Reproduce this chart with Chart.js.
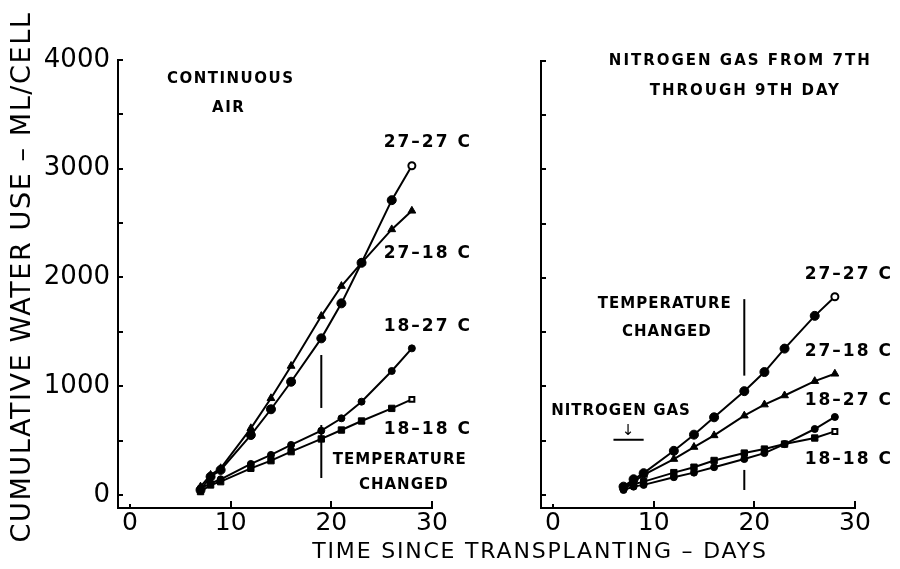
<!DOCTYPE html>
<html>
<head>
<meta charset="utf-8">
<script src="https://cdn.jsdelivr.net/npm/chart.js@4.4.0/dist/chart.umd.min.js"></script>
<style>
    html, body { margin: 0; padding: 0; background: #fff; }
    #wrap { position: relative; width: 900px; height: 569px; }
    canvas { position: absolute; left: 0; top: 0; }
</style>
</head>
<body>
<div id="wrap">
    <canvas id="air-chart" width="900" height="569"></canvas>
    <canvas id="nitrogen-chart" width="900" height="569"></canvas>
</div>
<script>
// Days since transplanting when water use was measured
const days = [7, 8, 9, 12, 14, 16, 19, 21, 23, 26, 28];
const seriesNames = ['27–27 C', '27–18 C', '18–27 C', '18–18 C'];

// Continuous air (ml per cell)
const air2727 = [46, 168, 230, 551, 788, 1041, 1440, 1762, 2135, 2711, 3027];
const air2718 = [76, 184, 245, 613, 889, 1186, 1645, 1921, 2135, 2442, 2613];
const air1827 = [61, 107, 144, 285, 368, 460, 591, 705, 858, 1140, 1348];
const air1818 = [31, 92, 122, 245, 315, 398, 515, 597, 680, 796, 879];

// Nitrogen gas from 7th through 9th day (ml per cell)
const n2727 = [77, 145, 201, 407, 556, 716, 957, 1133, 1349, 1651, 1827];
const n2718 = [68, 123, 185, 331, 442, 549, 731, 833, 917, 1049, 1117];
const n1827 = [46, 77, 93, 164, 206, 256, 331, 386, 469, 608, 719];
const n1818 = [68, 99, 123, 206, 256, 318, 386, 423, 469, 525, 586];

const xTicks = [0, 10, 20, 30];
const yTicks = [0, 1000, 2000, 3000, 4000];
const yMinorTicks = [0, 500, 1000, 1500, 2000, 2500, 3000, 3500, 4000];

const FONT = '"DejaVu Sans", sans-serif';

const makeDataset = (label, values, style) => {
    const n = values.length;
    return {
        label,
        data: values.map((v, i) => ({ x: days[i], y: v })),
        borderColor: '#000',
        borderWidth: 2,
        pointStyle: style.shape,
        pointRadius: values.map((v, i) => (i === n - 1 && style.openLast ? 3.5 : style.r)),
        pointBorderWidth: values.map((v, i) => (i === n - 1 && style.openLast ? 2 : 1)),
        pointBackgroundColor: values.map((v, i) => (i === n - 1 && style.openLast ? '#fff' : '#000')),
        pointBorderColor: '#000',
        tension: 0,
    };
};

const styles = [
    { shape: 'circle', r: 4.5, openLast: true },
    { shape: 'triangle', r: 4.5, openLast: false },
    { shape: 'circle', r: 3.5, openLast: false },
    { shape: 'rect', r: 4.5, openLast: true },
];

// draws inward tick marks and all the lettering of a panel
const decorations = (texts, lines, extra) => ({
    id: 'decorations',
    afterDraw(chart) {
        const { ctx, scales } = chart;
        const xs = scales.x, ys = scales.y;
        const area = chart.chartArea;
        ctx.save();
        ctx.strokeStyle = '#000';
        ctx.lineWidth = 2;
        ctx.beginPath();
        xTicks.forEach((v) => {
            const px = Math.round(xs.getPixelForValue(v));
            ctx.moveTo(px, area.bottom);
            ctx.lineTo(px, area.bottom - (v === 0 ? 4 : 7));
        });
        yMinorTicks.forEach((v) => {
            const py = Math.round(ys.getPixelForValue(v));
            ctx.moveTo(area.left, py);
            ctx.lineTo(area.left + 5, py);
        });
        ctx.stroke();

        lines.forEach((l) => {
            ctx.beginPath();
            ctx.lineWidth = 2;
            ctx.moveTo(xs.getPixelForValue(l.x1), ys.getPixelForValue(l.y1));
            ctx.lineTo(xs.getPixelForValue(l.x2), ys.getPixelForValue(l.y2));
            ctx.stroke();
        });

        ctx.fillStyle = '#000';
        ctx.textBaseline = 'middle';
        texts.forEach((t) => {
            ctx.font = t.font;
            ctx.letterSpacing = t.spacing || '0px';
            ctx.textAlign = t.align || 'center';
            ctx.fillText(t.text, xs.getPixelForValue(t.x), ys.getPixelForValue(t.y));
        });
        ctx.letterSpacing = '0px';
        if (extra) extra(ctx, chart);
        ctx.restore();
    },
});

const baseOptions = (showYLabels, padding) => ({
    responsive: false,
    devicePixelRatio: 1,
    animation: false,
    layout: { padding },
    plugins: { legend: { display: false }, tooltip: { enabled: false } },
    scales: {
        x: {
            type: 'linear',
            min: -1.2,
            max: 30,
            afterBuildTicks: (scale) => { scale.ticks = xTicks.map((v) => ({ value: v })); },
            afterFit: (scale) => { scale.height = 61; },
            grid: { display: false, drawTicks: false },
            border: { display: true, color: '#000', width: 2 },
            ticks: { color: '#000', font: { family: FONT, size: 25 }, padding: 0, maxRotation: 0 },
        },
        y: {
            type: 'linear',
            min: -120,
            max: 4000,
            afterBuildTicks: (scale) => { scale.ticks = yTicks.map((v) => ({ value: v })); },
            afterFit: (scale) => { scale.width = showYLabels ? 118 : 541; },
            grid: { display: false, drawTicks: false },
            border: { display: true, color: '#000', width: 2 },
            ticks: {
                display: showYLabels,
                color: '#000',
                font: { family: FONT, size: 26 },
                padding: 8,
                callback: (v) => String(v),
            },
        },
    },
});

const BOLD = 'bold 15px ' + FONT;
const LABEL = 'bold 17px ' + FONT;

const airTexts = [
    { text: 'CONTINUOUS', x: 10.0, y: 3823, font: BOLD, spacing: '1.5px' },
    { text: 'AIR', x: 9.8, y: 3557, font: BOLD, spacing: '1.5px' },
    { text: seriesNames[0], x: 25.2, y: 3244, font: LABEL, align: 'left', spacing: '2px' },
    { text: seriesNames[1], x: 25.2, y: 2224, font: LABEL, align: 'left', spacing: '2px' },
    { text: seriesNames[2], x: 25.2, y: 1544, font: LABEL, align: 'left', spacing: '2px' },
    { text: seriesNames[3], x: 25.2, y: 597, font: LABEL, align: 'left', spacing: '2px' },
    { text: 'TEMPERATURE', x: 26.8, y: 322, font: BOLD, spacing: '1px' },
    { text: 'CHANGED', x: 27.2, y: 92, font: BOLD, spacing: '1px' },
];
const airLines = [
    { x1: 19, y1: 1287, x2: 19, y2: 800 },
    { x1: 19, y1: 643, x2: 19, y2: 156 },
];

const nTexts = [
    { text: 'NITROGEN GAS FROM 7TH', x: 18.6, y: 4000, font: BOLD, spacing: '2px' },
    { text: 'THROUGH 9TH DAY', x: 19.1, y: 3722, font: BOLD, spacing: '2px' },
    { text: seriesNames[0], x: 25.0, y: 2028, font: LABEL, align: 'left', spacing: '2px' },
    { text: seriesNames[1], x: 25.0, y: 1324, font: LABEL, align: 'left', spacing: '2px' },
    { text: seriesNames[2], x: 25.0, y: 870, font: LABEL, align: 'left', spacing: '2px' },
    { text: seriesNames[3], x: 25.0, y: 324, font: LABEL, align: 'left', spacing: '2px' },
    { text: 'TEMPERATURE', x: 11.1, y: 1759, font: BOLD, spacing: '1px' },
    { text: 'CHANGED', x: 11.3, y: 1500, font: BOLD, spacing: '1px' },
    { text: 'NITROGEN GAS', x: 6.75, y: 769, font: BOLD, spacing: '1px' },
    { text: '↓', x: 7.45, y: 585, font: '15px ' + FONT },
];
const nLines = [
    { x1: 19, y1: 1805, x2: 19, y2: 1100 },
    { x1: 19, y1: 231, x2: 19, y2: 46 },
    { x1: 6.0, y1: 509, x2: 9.0, y2: 509 },
];

// axis titles, drawn once on the left canvas
const axisTitles = (ctx) => {
    ctx.fillStyle = '#000';
    ctx.textAlign = 'center';
    ctx.textBaseline = 'middle';
    ctx.font = '22px ' + FONT;
    ctx.letterSpacing = '1.8px';
    ctx.fillText('TIME SINCE TRANSPLANTING – DAYS', 540, 552);
    ctx.save();
    ctx.translate(23, 277);
    ctx.rotate(-Math.PI / 2);
    ctx.font = '27px ' + FONT;
    ctx.letterSpacing = '1.6px';
    ctx.fillText('CUMULATIVE WATER USE – ML/CELL', 0, 0);
    ctx.restore();
    ctx.letterSpacing = '0px';
};

new Chart(document.getElementById('air-chart'), {
    type: 'line',
    data: {
        datasets: [
            makeDataset(seriesNames[0], air2727, styles[0]),
            makeDataset(seriesNames[1], air2718, styles[1]),
            makeDataset(seriesNames[2], air1827, styles[2]),
            makeDataset(seriesNames[3], air1818, styles[3]),
        ],
    },
    options: baseOptions(true, { left: 0, right: 468, top: 60, bottom: 0 }),
    plugins: [decorations(airTexts, airLines, axisTitles)],
});

new Chart(document.getElementById('nitrogen-chart'), {
    type: 'line',
    data: {
        datasets: [
            makeDataset(seriesNames[0], n2727, styles[0]),
            makeDataset(seriesNames[1], n2718, styles[1]),
            makeDataset(seriesNames[2], n1827, styles[2]),
            makeDataset(seriesNames[3], n1818, styles[3]),
        ],
    },
    options: baseOptions(false, { left: 0, right: 45, top: 61, bottom: 0 }),
    plugins: [decorations(nTexts, nLines)],
});
</script>
</body>
</html>
